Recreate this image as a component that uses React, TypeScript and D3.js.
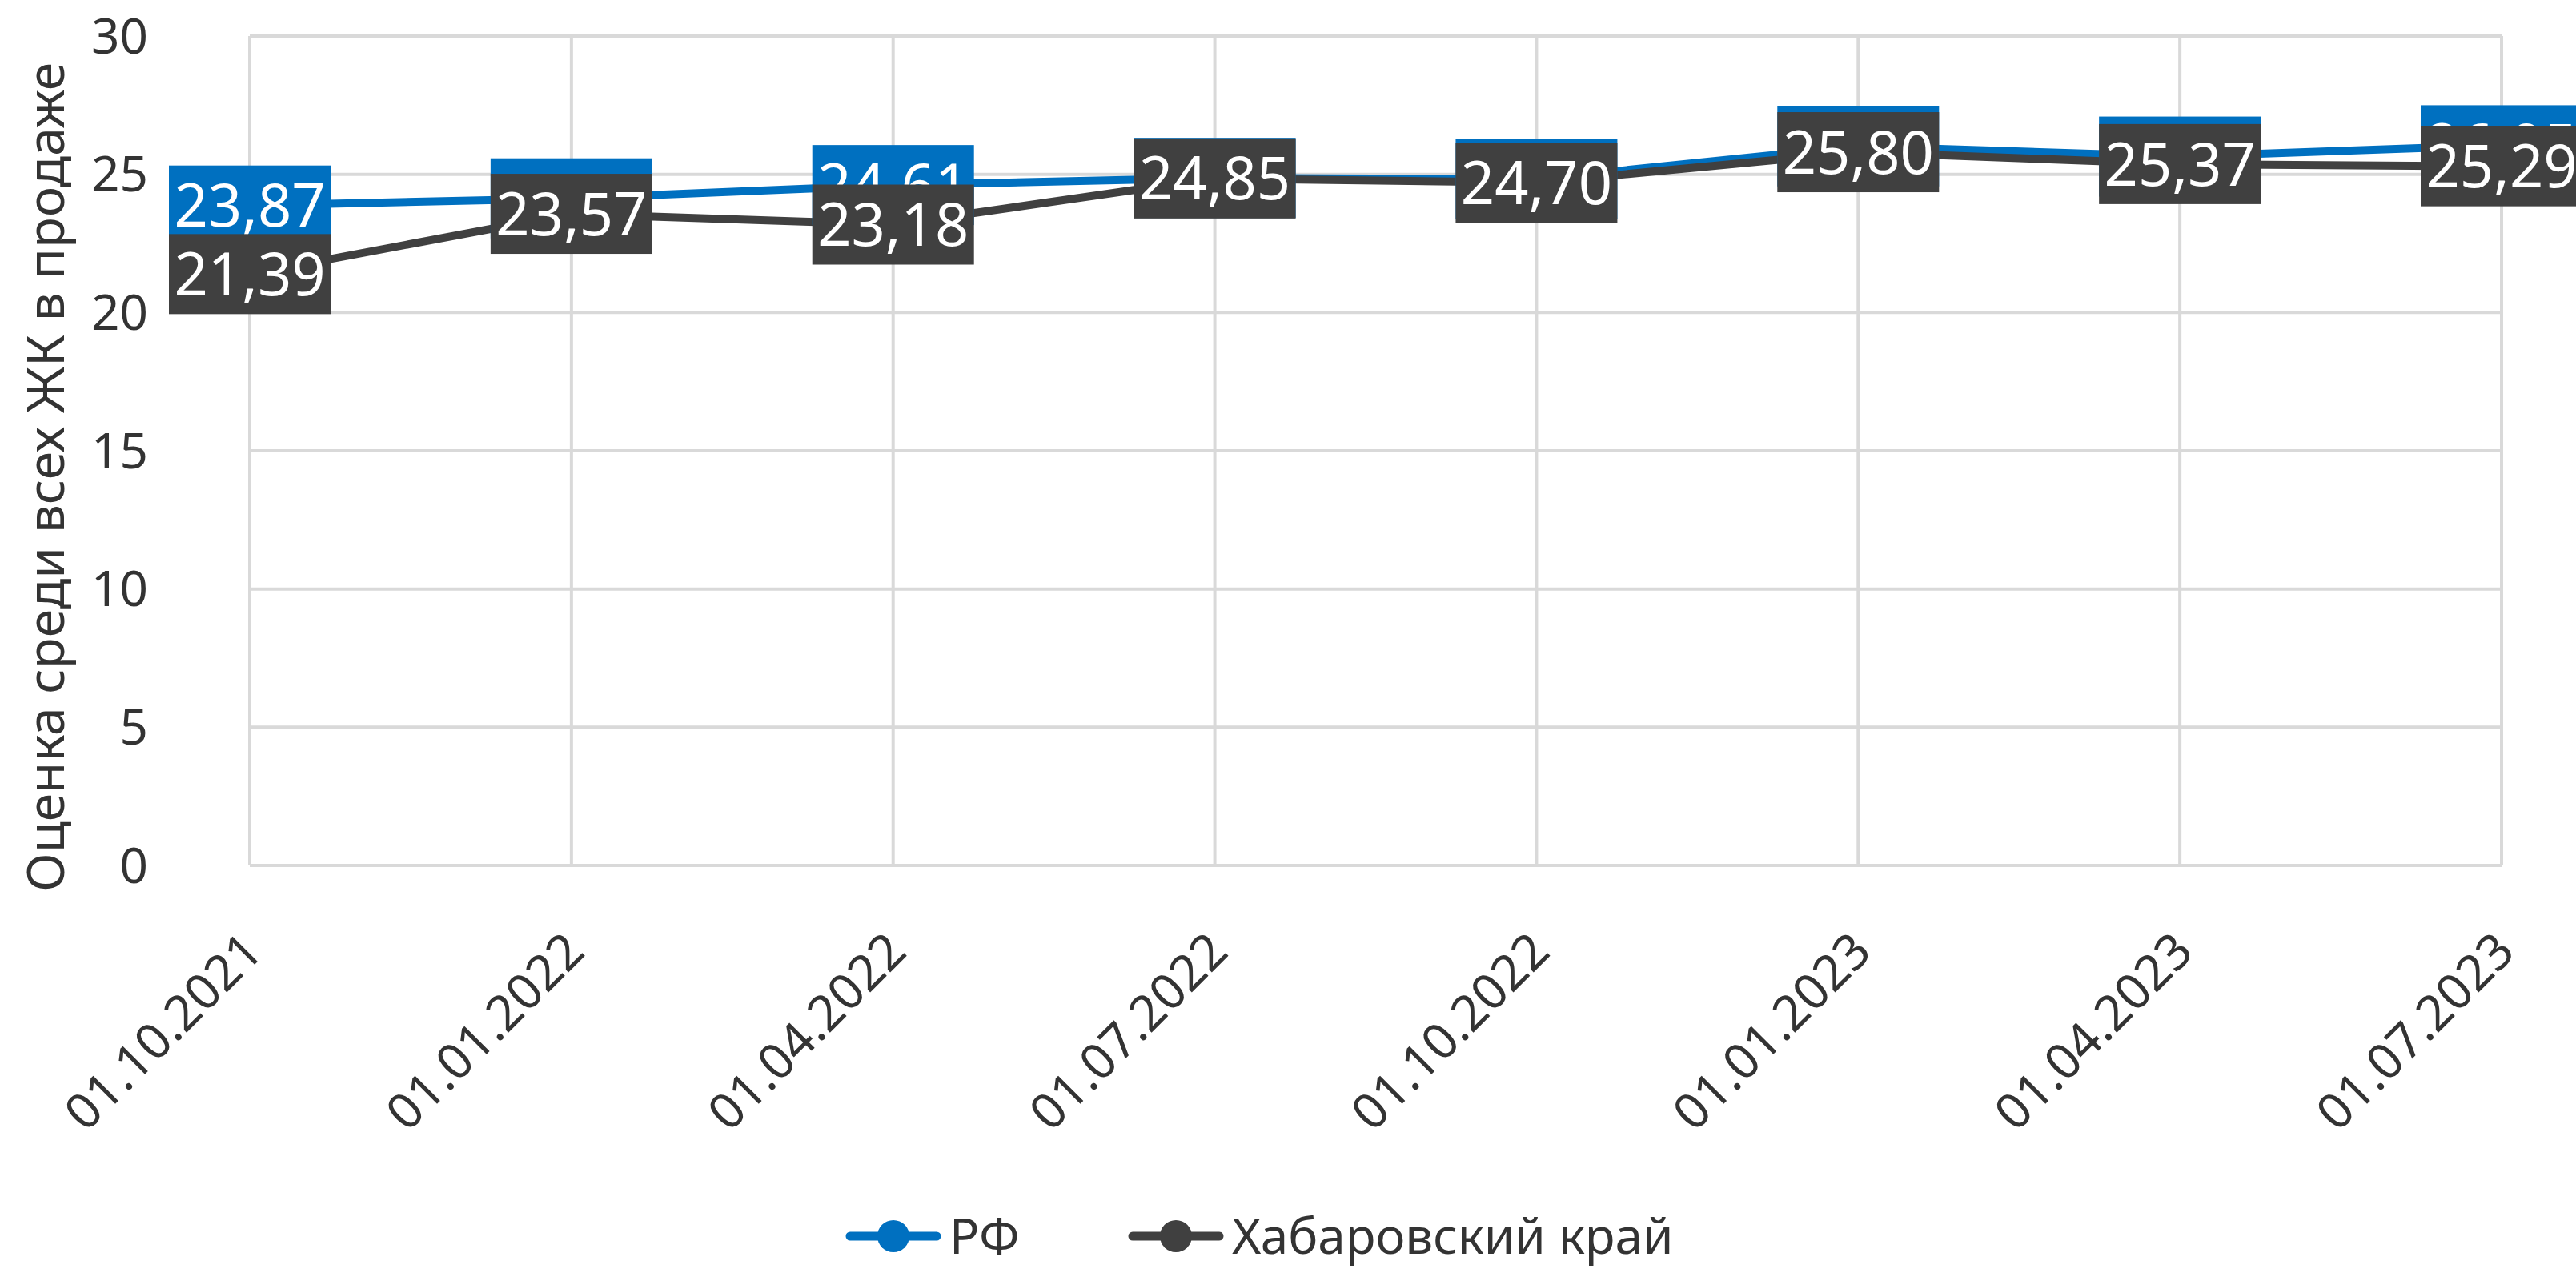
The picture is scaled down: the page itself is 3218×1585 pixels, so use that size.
import { useEffect, useRef } from 'react'
import * as d3 from 'd3'

const dates = ['01.10.2021', '01.01.2022', '01.04.2022', '01.07.2022', '01.10.2022', '01.01.2023', '01.04.2023', '01.07.2023']
const rfValues = [23.87, 24.13, 24.61, 24.87, 24.82, 26.01, 25.64, 26.05]
const habValues = [21.39, 23.57, 23.18, 24.85, 24.70, 25.80, 25.37, 25.29]
const yTicks = [0, 5, 10, 15, 20, 25, 30]
const seriesNames = ['РФ', 'Хабаровский край']
const yTitle = 'Оценка среди всех ЖК в продаже'

const App = () => {
  const svgRef = useRef(null)

  useEffect(() => {
    document.body.style.margin = '0'
    const width = 3218
    const height = 1585
    const left = 312, right = 3125, top = 45, bottom = 1081
    const font = "'Noto Sans', sans-serif"
    const colors = ['#0070C0', '#404040']

    const svg = d3.select(svgRef.current)
      .attr('width', width)
      .attr('height', height)
      .style('display', 'block')
      .style('font-family', font)
    svg.selectAll('*').remove()

    const x = d3.scalePoint().domain(dates).range([left, right])
    const y = d3.scaleLinear().domain([0, 30]).range([bottom, top])

    // grid
    svg.append('g')
      .selectAll('line')
      .data(yTicks)
      .join('line')
      .attr('x1', left).attr('x2', right)
      .attr('y1', d => y(d)).attr('y2', d => y(d))
      .attr('stroke', '#d9d9d9').attr('stroke-width', 4)
    svg.append('g')
      .selectAll('line')
      .data(dates)
      .join('line')
      .attr('x1', d => x(d)).attr('x2', d => x(d))
      .attr('y1', top).attr('y2', bottom)
      .attr('stroke', '#d9d9d9').attr('stroke-width', 4)

    // y tick labels
    svg.append('g')
      .selectAll('text')
      .data(yTicks)
      .join('text')
      .attr('x', 185)
      .attr('y', d => y(d))
      .attr('dy', '0.35em')
      .attr('text-anchor', 'end')
      .attr('font-size', 62)
      .attr('fill', '#333')
      .text(d => d)

    // y title
    svg.append('text')
      .attr('transform', `translate(80,596) rotate(-90)`)
      .attr('text-anchor', 'middle')
      .attr('font-size', 64)
      .attr('fill', '#333')
      .text(yTitle)

    // x labels
    svg.append('g')
      .selectAll('text')
      .data(dates)
      .join('text')
      .attr('transform', d => `translate(${x(d) + 4},${bottom + 95}) rotate(-45)`)
      .attr('dy', '0.35em')
      .attr('text-anchor', 'end')
      .attr('font-size', 62)
      .attr('fill', '#333')
      .text(d => d)

    const series = [rfValues, habValues]
    const line = d3.line<number>().x((d, i) => x(dates[i])).y(d => y(d))

    series.forEach((vals, s) => {
      svg.append('path')
        .datum(vals)
        .attr('d', line)
        .attr('fill', 'none')
        .attr('stroke', colors[s])
        .attr('stroke-width', 10)
        .attr('stroke-linecap', 'round')
      svg.append('g')
        .selectAll('circle')
        .data(vals)
        .join('circle')
        .attr('cx', (d, i) => x(dates[i]))
        .attr('cy', d => y(d))
        .attr('r', 18)
        .attr('fill', colors[s])
    })

    const fmt = (v: number) => v.toFixed(2).replace('.', ',')
    const boxW = 202, boxH = 100

    series.forEach((vals, s) => {
      const g = svg.append('g')
        .selectAll('g')
        .data(vals)
        .join('g')
        .attr('transform', (d, i) => `translate(${x(dates[i])},${y(d)})`)
      g.append('rect')
        .attr('x', -boxW / 2).attr('y', -boxH / 2)
        .attr('width', boxW).attr('height', boxH)
        .attr('fill', colors[s])
      g.append('text')
        .attr('text-anchor', 'middle')
        .attr('dy', '0.36em')
        .attr('font-size', 74)
        .attr('fill', '#fff')
        .text(d => fmt(d))
    })

    // legend
    const legendY = 1544
    const items = [
      { name: seriesNames[0], textX: 1186, color: colors[0] },
      { name: seriesNames[1], textX: 1539, color: colors[1] }
    ]
    const lineLen = 108
    const lg = svg.append('g')
      .selectAll('g')
      .data(items)
      .join('g')
    lg.append('line')
      .attr('x1', d => d.textX - 16 - lineLen).attr('x2', d => d.textX - 16)
      .attr('y1', legendY).attr('y2', legendY)
      .attr('stroke', d => d.color).attr('stroke-width', 11)
      .attr('stroke-linecap', 'round')
    lg.append('circle')
      .attr('cx', d => d.textX - 16 - lineLen / 2)
      .attr('cy', legendY)
      .attr('r', 20)
      .attr('fill', d => d.color)
    lg.append('text')
      .attr('x', d => d.textX)
      .attr('y', legendY)
      .attr('dy', '0.35em')
      .attr('font-size', 62)
      .attr('fill', '#333')
      .text(d => d.name)
  }, [])

  return (
    <div>
      <svg ref={svgRef}></svg>
    </div>
  )
}

export default App
